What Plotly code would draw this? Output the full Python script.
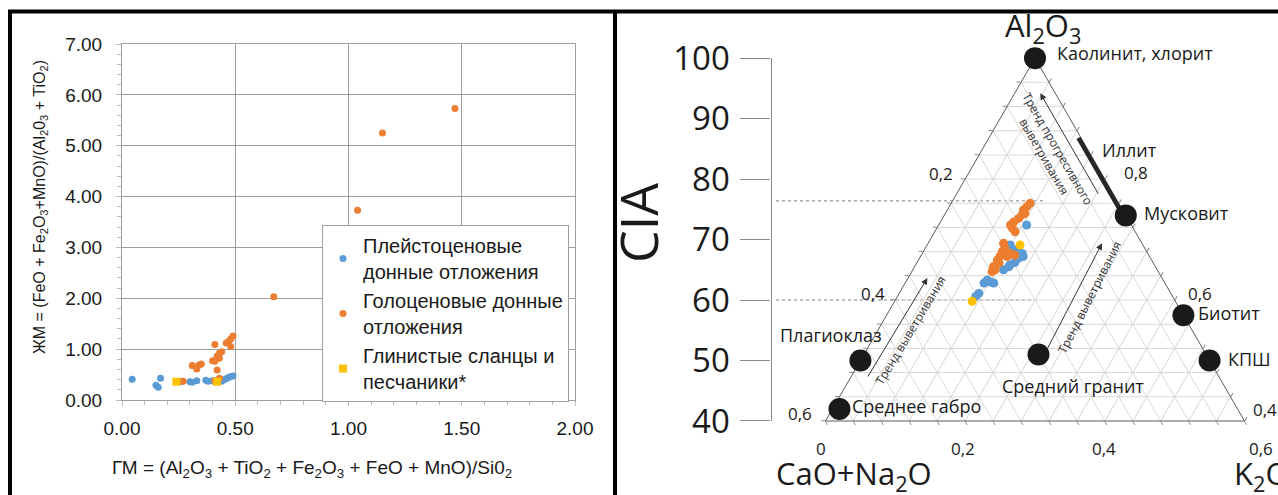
import math
import plotly.graph_objects as go

W, H = 1278, 495

# ---------------- Left panel: ГМ (x) vs ЖМ (y) ----------------
pleist_gm  = [0.045, 0.15, 0.16, 0.17, 0.26, 0.30, 0.31, 0.33, 0.37, 0.38, 0.40, 0.41, 0.43, 0.44, 0.45, 0.46, 0.47, 0.48, 0.49]
pleist_zhm = [0.41, 0.29, 0.25, 0.43, 0.36, 0.36, 0.35, 0.38, 0.39, 0.37, 0.38, 0.36, 0.38, 0.37, 0.40, 0.42, 0.44, 0.46, 0.47]
holo_gm  = [0.27, 0.31, 0.33, 0.34, 0.35, 0.40, 0.41, 0.41, 0.41, 0.42, 0.42, 0.43, 0.43, 0.44, 0.43, 0.46, 0.47, 0.48, 0.48, 0.49, 0.67, 1.04, 1.15, 1.47]
holo_zhm = [0.37, 0.68, 0.61, 0.69, 0.71, 0.77, 1.09, 0.38, 0.76, 0.59, 0.86, 0.92, 0.82, 0.95, 0.43, 1.12, 1.15, 1.05, 1.20, 1.26, 2.03, 3.73, 5.25, 5.73]
shale_gm  = [0.24, 0.42]
shale_zhm = [0.36, 0.36]

# ---------------- Right panel: A-CN-K (molar fractions) ----------------
pleist_A  = [0.724, 0.691, 0.677, 0.672, 0.669, 0.658, 0.655, 0.650, 0.633, 0.628, 0.628, 0.630, 0.611, 0.606, 0.683, 0.662]
pleist_CN = [0.150, 0.190, 0.180, 0.181, 0.189, 0.207, 0.210, 0.220, 0.252, 0.259, 0.245, 0.249, 0.275, 0.282, 0.185, 0.198]
pleist_K  = [0.126, 0.119, 0.143, 0.147, 0.142, 0.135, 0.135, 0.130, 0.115, 0.113, 0.127, 0.121, 0.114, 0.112, 0.132, 0.140]

holo_A  = [0.760, 0.754, 0.749, 0.741, 0.743, 0.735, 0.729, 0.724, 0.719, 0.713, 0.694, 0.686, 0.680, 0.677, 0.674, 0.672, 0.666, 0.661, 0.655, 0.647, 0.650, 0.672]
holo_CN = [0.127, 0.135, 0.142, 0.148, 0.143, 0.156, 0.166, 0.173, 0.173, 0.172, 0.198, 0.200, 0.207, 0.197, 0.192, 0.214, 0.221, 0.221, 0.232, 0.238, 0.232, 0.204]
holo_K  = [0.113, 0.111, 0.109, 0.111, 0.114, 0.109, 0.105, 0.103, 0.108, 0.115, 0.108, 0.114, 0.113, 0.126, 0.134, 0.114, 0.113, 0.118, 0.113, 0.115, 0.118, 0.124]

shale_A  = [0.691, 0.598]
shale_CN = [0.176, 0.291]
shale_K  = [0.133, 0.111]

mineral_names = ["Каолинит, хлорит", "Мусковит", "Биотит", "КПШ", "Средний гранит", "Плагиоклаз", "Среднее габро"]
mineral_A  = [1.00, 0.74, 0.575, 0.50, 0.51, 0.50, 0.42]
mineral_CN = [0.00, 0.00, 0.000, 0.00, 0.24, 0.50, 0.57]
mineral_K  = [0.00, 0.26, 0.425, 0.50, 0.25, 0.00, 0.01]

illite_A  = [0.87, 0.75]
illite_CN = [0.00, 0.00]
illite_K  = [0.13, 0.25]

cia_ticks = [40, 50, 60, 70, 80, 90, 100]
cia_guides = [76.4, 60.0]

BLUE, ORANGE, YELLOW = "#5B9BD5", "#ED7D31", "#FFC000"
LFONT = "Liberation Sans, Arial, sans-serif"
RFONT = "Open Sans, Noto Sans, sans-serif"


def P(x, y):
    """pixel -> paper fraction"""
    return x / W, 1 - y / H


# geometry of the right-hand triangle (pixels)
TRI_L, TRI_R, TRI_B = 825.5, 1244.5, 421.0
SIDE = TRI_R - TRI_L
TRI_T = TRI_B - SIDE * math.sqrt(3) / 2

fig = go.Figure()

# ---------- left scatter ----------
fig.add_trace(go.Scatter(x=pleist_gm, y=pleist_zhm, mode="markers", name="Плейстоценовые<br>донные отложения",
                         marker=dict(color=BLUE, size=7), xaxis="x", yaxis="y"))
fig.add_trace(go.Scatter(x=holo_gm, y=holo_zhm, mode="markers", name="Голоценовые донные<br>отложения",
                         marker=dict(color=ORANGE, size=7), xaxis="x", yaxis="y"))
fig.add_trace(go.Scatter(x=shale_gm, y=shale_zhm, mode="markers", name="Глинистые сланцы и<br>песчаники*",
                         marker=dict(color=YELLOW, size=8, symbol="square"), xaxis="x", yaxis="y"))

# ---------- ternary ----------
fig.add_trace(go.Scatterternary(a=illite_A, b=illite_CN, c=illite_K, mode="lines",
                                line=dict(color="#262626", width=9), showlegend=False, cliponaxis=False))
fig.add_trace(go.Scatterternary(a=pleist_A, b=pleist_CN, c=pleist_K, mode="markers",
                                marker=dict(color=BLUE, size=9), showlegend=False, cliponaxis=False))
fig.add_trace(go.Scatterternary(a=holo_A, b=holo_CN, c=holo_K, mode="markers",
                                marker=dict(color=ORANGE, size=9), showlegend=False, cliponaxis=False))
fig.add_trace(go.Scatterternary(a=shale_A, b=shale_CN, c=shale_K, mode="markers",
                                marker=dict(color=YELLOW, size=9), showlegend=False, cliponaxis=False))
fig.add_trace(go.Scatterternary(a=mineral_A, b=mineral_CN, c=mineral_K, mode="markers", hovertext=mineral_names,
                                marker=dict(color="#1a1a1a", size=22), showlegend=False, cliponaxis=False))

# CIA overlay axis (x2 hidden, y2 = CIA)
X2L = 700.0
s_of = lambda px: 0.2 + 0.6 * (px - TRI_L) / SIDE
for cia, xend in zip(cia_guides, [1045, 1032]):
    fig.add_trace(go.Scatter(x=[s_of(776), s_of(xend)], y=[cia, cia], mode="lines",
                             line=dict(color="#808080", width=1, dash="dot"),
                             showlegend=False, xaxis="x2", yaxis="y2", hoverinfo="skip"))

tern_ax = dict(showticklabels=False, ticks="outside", ticklen=4, tickcolor="#8a8a8a",
               showgrid=True, gridcolor="#d9d9d9", gridwidth=1, linecolor="#5a5a5a", linewidth=1,
               dtick=0.04, tick0=0, title=dict(text=""), layer="below traces")

fig.update_layout(
    width=W, height=H, margin=dict(l=0, r=0, t=0, b=0),
    paper_bgcolor="white", plot_bgcolor="rgba(0,0,0,0)",
    xaxis=dict(domain=[122 / W, 575 / W], range=[0, 2], dtick=0.5, tickformat=".2f",
               showgrid=True, gridcolor="#9e9e9e", gridwidth=1, zeroline=False,
               showline=True, mirror=True, linecolor="#9e9e9e", linewidth=1,
               ticks="outside", ticklen=5, tickcolor="#bdbdbd", ticklabelstandoff=6,
               minor=dict(dtick=0.1, ticks="outside", ticklen=4, tickcolor="#bdbdbd", showgrid=False),
               tickfont=dict(family=LFONT, size=19, color="#1a1a1a"), anchor="y", automargin=False),
    yaxis=dict(domain=[1 - 400 / H, 1 - 44 / H], range=[0, 7], dtick=1, tickformat=".2f",
               showgrid=True, gridcolor="#9e9e9e", gridwidth=1, zeroline=False,
               showline=True, mirror=True, linecolor="#9e9e9e", linewidth=1,
               ticks="outside", ticklen=5, tickcolor="#bdbdbd", ticklabelstandoff=10,
               minor=dict(dtick=0.2, ticks="outside", ticklen=4, tickcolor="#bdbdbd", showgrid=False),
               tickfont=dict(family=LFONT, size=19, color="#1a1a1a"), anchor="x", automargin=False),
    xaxis2=dict(domain=[X2L / W, 1], range=[s_of(X2L), s_of(W)], visible=False, anchor="y2"),
    yaxis2=dict(domain=[1 - TRI_B / H, 1 - TRI_T / H], range=[40, 100], tickvals=cia_ticks,
                anchor="free", position=770.6 / W, side="left", showgrid=False, zeroline=False,
                showline=True, linecolor="#8a8a8a", linewidth=1.3, ticks="outside", ticklen=30,
                tickcolor="#8a8a8a", tickwidth=1.3, ticklabelstandoff=4,
                tickfont=dict(family=RFONT, size=33, color="#1a1a1a"), automargin=False),
    ternary=dict(domain=dict(x=[TRI_L / W, TRI_R / W], y=[1 - TRI_B / H, 1 - TRI_T / H]),
                 sum=1, bgcolor="rgba(0,0,0,0)",
                 aaxis=dict(min=0.4, **tern_ax), baxis=dict(min=0, **tern_ax), caxis=dict(min=0, **tern_ax)),
    legend=dict(x=322 / W, y=1 - 225 / H, xanchor="left", yanchor="top", bgcolor="white",
                bordercolor="#a0a0a0", borderwidth=1, font=dict(family=LFONT, size=20, color="#1a1a1a"),
                itemwidth=30, tracegroupgap=4),
)

ann = []


def text(x, y, s, size, xanchor="center", angle=0, family=RFONT, color="#1a1a1a"):
    px, py = P(x, y)
    ann.append(dict(x=px, y=py, xref="paper", yref="paper", text=s, showarrow=False,
                    xanchor=xanchor, yanchor="middle", textangle=angle,
                    font=dict(family=family, size=size, color=color)))


# left axis titles
text(40, 207, "ЖМ = (FeO + Fe<sub>2</sub>O<sub>3</sub>+MnO)/(Al<sub>2</sub>0<sub>3</sub> + TiO<sub>2</sub>)", 16,
     angle=-90, family=LFONT)
text(312, 469, "ГМ = (Al<sub>2</sub>O<sub>3</sub> + TiO<sub>2</sub> + Fe<sub>2</sub>O<sub>3</sub> + FeO + MnO)/Si0<sub>2</sub>",
     19, family=LFONT)

# right panel titles
text(637, 223, "CIA", 52, angle=-90)
text(1043, 27, "Al<sub>2</sub>O<sub>3</sub>", 31)
text(854, 475, "CaO+Na<sub>2</sub>O", 31)
text(1232, 475, "K<sub>2</sub>O", 31, xanchor="left")

# mineral labels
for s, x, y, xa in [("Каолинит, хлорит", 1055, 53, "left"), ("Иллит", 1100, 150, "left"),
                    ("Мусковит", 1142, 213, "left"), ("Биотит", 1196, 313, "left"),
                    ("Плагиоклаз", 778, 335, "left"), ("КПШ", 1226, 359, "left"),
                    ("Средний гранит", 1000, 386, "left"), ("Среднее габро", 850, 406, "left")]:
    text(x, y, s, 18, xanchor=xa)

# ternary scale labels
for s, x, y in [("0,2", 941, 173), ("0,4", 873, 293), ("0,6", 800, 413),
                ("0,8", 1136, 172), ("0,6", 1200, 293),
                ("0", 821, 448), ("0,2", 963, 448), ("0,4", 1104, 448)]:
    text(x, y, s, 17)
text(1247, 448, "0,6", 17, xanchor="left")
text(1251, 409, "0,4", 17, xanchor="left")

# weathering trend arrows
for (tx, ty), (hx, hy) in [((867, 378), (927.4, 278)), ((1046.7, 350), (1102, 243.3)), ((1099, 195), (1040.3, 93.3))]:
    px, py = P(hx, hy)
    ann.append(dict(x=px, y=py, xref="paper", yref="paper", ax=tx - hx, ay=ty - hy, axref="pixel", ayref="pixel",
                    showarrow=True, arrowhead=2, arrowsize=1.3, arrowwidth=1, arrowcolor="#333", text=""))
text(910, 330, "Тренд выветривания", 12, angle=-59, color="#333")
text(1089, 297, "Тренд выветривания", 12, angle=-63, color="#333")
text(1051, 152, "Тренд прогресивного<br>выветривания", 12, angle=60, color="#333")

fig.update_layout(annotations=ann)

# frame lines of the document table
shapes = []
for x0, y0, x1, y1 in [(8, 11.5, W, 11.5), (10, 10, 10, H), (615, 10, 615, H)]:
    a0, b0 = P(x0, y0)
    a1, b1 = P(x1, y1)
    shapes.append(dict(type="line", xref="paper", yref="paper", x0=a0, y0=b0, x1=a1, y1=b1,
                       line=dict(color="black", width=4), layer="above"))
fig.update_layout(shapes=shapes)

fig.write_html("out.html", config={"displayModeBar": False},
               post_script="document.body.style.margin='0';")
